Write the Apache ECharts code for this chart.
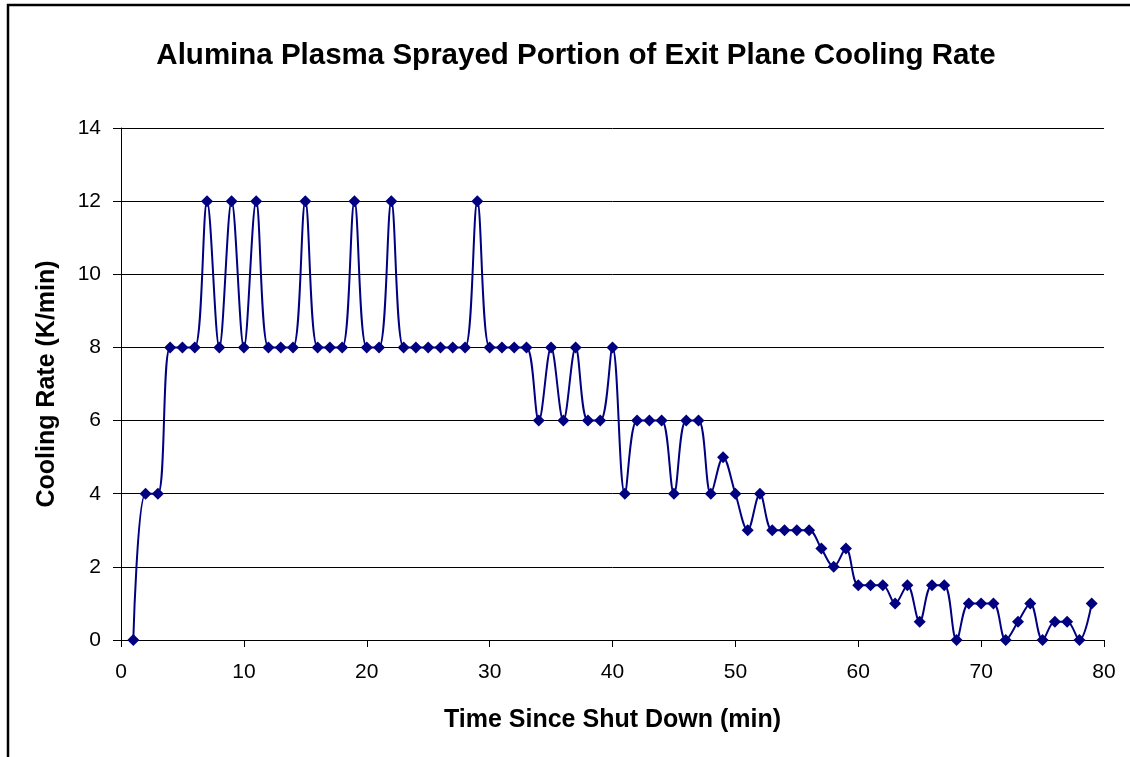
<!DOCTYPE html>
<html>
<head>
<meta charset="utf-8">
<script src="https://cdn.jsdelivr.net/npm/echarts@6/dist/echarts.min.js"></script>
<style>
  html, body { margin: 0; padding: 0; background: #fff; }
  #chart { width: 1130px; height: 757px; }
</style>
</head>
<body>
<div id="chart"></div>
<script>
// Minutes since shut down
const timeMin = [
  1, 2, 3, 4, 5, 6, 7, 8, 9, 10,
  11, 12, 13, 14, 15, 16, 17, 18, 19, 20,
  21, 22, 23, 24, 25, 26, 27, 28, 29, 30,
  31, 32, 33, 34, 35, 36, 37, 38, 39, 40,
  41, 42, 43, 44, 45, 46, 47, 48, 49, 50,
  51, 52, 53, 54, 55, 56, 57, 58, 59, 60,
  61, 62, 63, 64, 65, 66, 67, 68, 69, 70,
  71, 72, 73, 74, 75, 76, 77, 78, 79
];

// Cooling rate, K/min
const coolingRate = [
  0, 4, 4, 8, 8, 8, 12, 8, 12, 8,
  12, 8, 8, 8, 12, 8, 8, 8, 12, 8,
  8, 12, 8, 8, 8, 8, 8, 8, 12, 8,
  8, 8, 8, 6, 8, 6, 8, 6, 6, 8,
  4, 6, 6, 6, 4, 6, 6, 4, 5, 4,
  3, 4, 3, 3, 3, 3, 2.5, 2, 2.5, 1.5,
  1.5, 1.5, 1, 1.5, 0.5, 1.5, 1.5, 0, 1, 1,
  1, 0, 0.5, 1, 0, 0.5, 0.5, 0, 1
];

const chartTitle = 'Alumina Plasma Sprayed Portion of Exit Plane Cooling Rate';
const xTitle = 'Time Since Shut Down (min)';
const yTitle = 'Cooling Rate (K/min)';

const FONT = 'Arial, "Liberation Sans", sans-serif';
const NAVY = '#000080';

const points = timeMin.map((t, i) => [t, coolingRate[i]]);

const chart = echarts.init(document.getElementById('chart'), null, { renderer: 'canvas' });

chart.setOption({
  backgroundColor: '#ffffff',
  animation: false,
  title: {
    text: chartTitle,
    left: 571,
    top: 36,
    textAlign: 'center',
    textStyle: { fontFamily: FONT, fontSize: 29.5, fontWeight: 'bold', color: '#000' }
  },
  graphic: [
    {
      type: 'polyline',
      shape: { points: [[8, 760], [8, 5], [1135, 5]] },
      style: { stroke: '#000', lineWidth: 2.5, fill: null },
      silent: true
    }
  ],
  grid: { left: 121, right: 26, top: 128, bottom: 117, containLabel: false },
  xAxis: {
    type: 'value',
    min: 0,
    max: 80,
    interval: 10,
    name: xTitle,
    nameLocation: 'middle',
    nameGap: 68,
    nameTextStyle: { fontFamily: FONT, fontSize: 25, fontWeight: 'bold', color: '#000' },
    axisLine: { onZero: false, lineStyle: { color: '#000', width: 1 } },
    axisTick: { show: true, inside: false, length: 7, lineStyle: { color: '#000' } },
    axisLabel: { fontFamily: FONT, fontSize: 21, color: '#000', margin: 22 },
    splitLine: { show: false }
  },
  yAxis: {
    type: 'value',
    min: 0,
    max: 14,
    interval: 2,
    name: yTitle,
    nameLocation: 'middle',
    nameGap: 61,
    nameRotate: 90,
    nameTextStyle: { fontFamily: FONT, fontSize: 25, fontWeight: 'bold', color: '#000' },
    axisLine: { show: true, lineStyle: { color: '#000', width: 1 } },
    axisTick: { show: true, inside: false, length: 8, lineStyle: { color: '#000' } },
    axisLabel: { fontFamily: FONT, fontSize: 21, color: '#000', margin: 20 },
    splitLine: { show: true, lineStyle: { color: '#000', width: 1 } }
  },
  series: [
    {
      type: 'line',
      data: points,
      smooth: 0.35,
      symbol: 'diamond',
      symbolSize: 12,
      itemStyle: { color: NAVY },
      lineStyle: { color: NAVY, width: 2 },
      z: 3
    }
  ]
});
</script>
</body>
</html>
